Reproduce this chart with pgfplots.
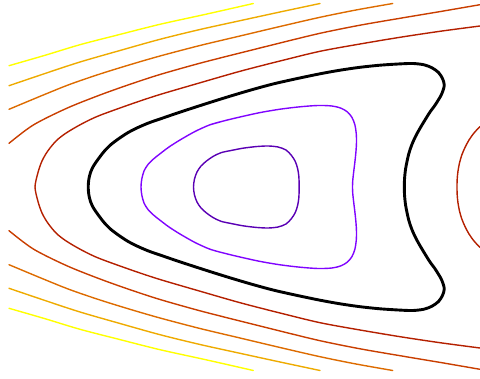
\documentclass[border=0pt]{standalone}
\usepackage{pgfplots}
\pgfplotsset{compat=1.18}

% contour colours (gnuplot-style map)
\definecolor{lvA}{HTML}{5A00B4}
\definecolor{lvB}{HTML}{8004FF}
\definecolor{lvD}{HTML}{B42000}
\definecolor{lvE}{HTML}{C93E00}
\definecolor{lvF}{HTML}{DD6B00}
\definecolor{lvG}{HTML}{EEAB00}
\definecolor{lvH}{HTML}{FFFF00}

\begin{document}
\begin{tikzpicture}
\begin{axis}[
  scale only axis,
  width=480pt, height=379pt,
  xmin=0, xmax=480, ymin=0, ymax=379,
  y dir=reverse,
  hide axis,
  clip=true,
  every axis plot/.append style={smooth, line join=round, line cap=round},
]

% ---- outermost open level (yellow)
\addplot[lvH, line width=1.4pt] coordinates {
 (9,65.7) (45,55.3) (80,44.7) (120,34.4) (160,24.3) (207,14) (253.3,3.5)};
\addplot[lvH, line width=1.4pt] coordinates {
 (9,308.3) (45,318.7) (80,329.3) (120,339.6) (160,349.7) (207,360) (253.3,370.5)};

% ---- orange-yellow
\addplot[lvG, line width=1.4pt] coordinates {
 (9,85.7) (45,73.5) (80,62) (120,50.5) (160,39.3) (200,29.5) (240,20.7) (280,12) (320,3.5)};
\addplot[lvG, line width=1.4pt] coordinates {
 (9,288.3) (45,300.5) (80,312) (120,323.5) (160,334.7) (200,344.5) (240,353.3) (280,362) (320,370.5)};

% ---- orange
\addplot[lvF, line width=1.4pt] coordinates {
 (9,109.3) (43.3,95) (70,84.3) (100,74) (130,64.7) (160,56) (200,45.5) (240,36) (280,26.5) (320,17.3) (356,10) (392.7,3.5)};
\addplot[lvF, line width=1.4pt] coordinates {
 (9,264.7) (43.3,279) (70,289.7) (100,300) (130,309.3) (160,318) (200,328.5) (240,338) (280,347.5) (320,356.7) (356,364) (392.7,370.5)};

% ---- red-orange
\addplot[lvE, line width=1.4pt] coordinates {
 (9,143.3) (33.3,125) (66.7,108.3) (100,95) (130,84.3) (160,74.5) (200,63.2) (240,53) (280,43) (320,33.3) (360,25.2) (400,18.3) (440,11.6) (480,4.7)};
\addplot[lvE, line width=1.4pt] coordinates {
 (9,230.7) (33.3,249) (66.7,265.7) (100,279) (130,289.7) (160,299.5) (200,310.8) (240,321) (280,331) (320,340.7) (360,348.8) (400,355.7) (440,362.4) (480,369.3)};

% ---- dark red level: left branch wrapping round the well
\addplot[lvD, line width=1.4pt] coordinates {
 (480,26) (440,31.3) (400,37.3) (360,44) (320,51.3) (280,61) (240,71.3) (200,82.8) (160,94.5) (133.3,103.3) (100,115.3) (85,122.2) (73,128.8) (64,134.5) (56.5,140.5) (50,148) (45.5,154.5) (42,161) (39.7,167) (38,172.5) (36.3,179) (35.3,184) (35,187)
 (35.3,190) (36.3,195) (38,201.5) (39.7,207) (42,213) (45.5,219.5) (50,226) (56.5,233.5) (64,239.5) (73,245.2) (85,251.8) (100,258.7) (133.3,270.7) (160,279.5) (200,291.2) (240,302.7) (280,313) (320,322.7) (360,330) (400,336.7) (440,342.7) (480,348)};
% ---- dark red level: right branch
\addplot[lvD, line width=1.4pt] coordinates {
 (480,126.5) (474,133) (469,140) (465,147.5) (461.8,155) (459.5,163) (458,171) (457.2,179) (457,187)
 (457.2,195) (458,203) (459.5,211) (461.8,219) (465,226.5) (469,234) (474,241) (480,247.5)};

% ---- separatrix-like level (black, thick)
\addplot[black, line width=2.9pt] coordinates {
 (160,119) (176,113.5) (193,107.9) (212,101.8) (232,95.6) (252,89.7) (273,84) (296,78.8) (320,73.8) (340,70.2) (360,67.3) (380,65.2) (400,63.9) (413,63.5) (424,64.8) (432,67.8) (438.5,72.5) (442.5,78.5) (444.3,85) (443,90.5) (441,95.5) (438,100.5) (434.5,106) (430,112) (425,120) (420,128.3) (415.5,136.5) (411.7,145) (409,153) (407,161.5) (405.5,169.5) (404.6,178) (404.3,187)
 (404.6,196) (405.5,204.5) (407,212.5) (409,221) (411.7,229) (415.5,237.5) (420,245.7) (425,254) (430,262) (434.5,268) (438,273.5) (441,278.5) (443,283.5) (444.3,289) (442.5,295.5) (438.5,301.5) (432,306.2) (424,309.2) (413,310.5) (400,310.1) (380,308.8) (360,306.7) (340,303.8) (320,300.2) (296,295.2) (273,290) (252,284.3) (232,278.4) (212,272.2) (193,266.1) (176,260.5) (160,255)
 (149,251.2) (138,246.5) (128,241.4) (119,235.5) (111,229.5) (104.5,223) (100.5,218) (96.7,212.8) (93.2,207.5) (90.5,201.5) (88.8,194.5) (88.2,187) (88.8,179.5) (90.5,172.5) (93.2,166.5) (96.7,161.2) (100.5,156) (104.5,151) (111,144.5) (119,138.5) (128,132.6) (138,127.5) (149,122.8) (160,119) (176,113.5) (193,107.9)};

% ---- violet
\addplot[lvB, line width=1.4pt] coordinates {
 (210,124.8) (225,120.6) (240,117) (260,112.6) (280,109.2) (300,106.8) (318,105.5) (332,106) (341,108.2) (347.5,112) (352,117.5) (354.8,124.5) (356.2,133) (356.5,142) (356,151) (355,161) (353.8,171) (352.8,180) (352.5,187)
 (352.8,194) (353.8,203) (355,213) (356,223) (356.5,232) (356.2,241) (354.8,249.5) (352,256.5) (347.5,262) (341,265.8) (332,268) (318,268.5) (300,267.2) (280,264.8) (260,261.4) (240,257) (225,253.4) (210,249.2) (195,242.5) (180,234) (169,227) (160,220.2) (153.5,215) (148,209.5) (144,203) (141.8,195) (141,187)
 (141.8,179) (144,171) (148,164.5) (153.5,159) (160,153.8) (169,147) (180,140) (195,131.5) (210,124.8) (225,120.6) (240,117)};

% ---- innermost (dark violet)
\addplot[lvA, line width=1.4pt] coordinates {
 (231,150.5) (243,148.2) (256,146.6) (268,146) (278,147) (286,150) (291.5,155.5) (295.3,161.5) (297.6,168.5) (298.8,176) (299.2,187)
 (298.8,198) (297.6,205.5) (295.3,212.5) (291.5,218.5) (286,224) (278,227) (268,228) (256,227.4) (243,225.8) (231,223.5) (221,221.3) (213,217.5) (206.5,213) (201,208) (197,202) (194.5,195) (193.5,187)
 (194.5,179) (197,172) (201,166) (206.5,161) (213,156.5) (221,152.7) (231,150.5) (243,148.2) (256,146.6)};

\end{axis}
% the page is exactly the plotting area
\pgfresetboundingbox
\path (current axis.south west) rectangle (current axis.north east);
\end{tikzpicture}
\end{document}
